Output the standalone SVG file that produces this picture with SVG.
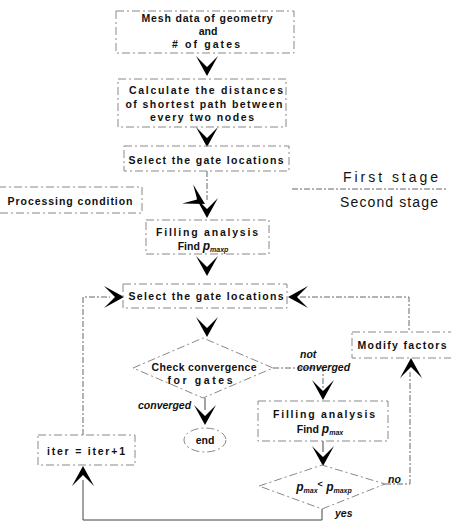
<svg xmlns="http://www.w3.org/2000/svg" xmlns:xlink="http://www.w3.org/1999/xlink" width="451" height="523" viewBox="0 0 451 523">
<style>
.box{fill:none;stroke:#888;stroke-width:1;stroke-dasharray:8 3 2 3}
.t{font-family:"Liberation Sans",Arial,sans-serif;font-size:10.5px;font-weight:bold;fill:#111;text-anchor:middle}
.it{font-family:"Liberation Sans",Arial,sans-serif;font-size:10.5px;font-weight:bold;font-style:italic;fill:#111}
.big{font-family:"Liberation Sans",Arial,sans-serif;font-size:14px;fill:#111}
.ln{fill:none;stroke:#666;stroke-width:1;stroke-dasharray:6 2 2 2}
.sl{fill:none;stroke:#444;stroke-width:1}
.ah{fill:#000}
.sub{font-size:7px;font-style:italic}
</style>
<defs>
<path id="ah" class="ah" d="M0,0 L-11,-20 L0,-9 L11,-20 Z"/>
</defs>
<rect width="451" height="523" fill="#fff"/>
<g id="connectors">
<line class="ln" x1="207" y1="171" x2="207" y2="200"/>
<line class="ln" x1="292" y1="189" x2="448" y2="189"/>
<line class="sl" x1="205" y1="398" x2="205" y2="410"/>
<polyline class="ln" points="273,368 323,368 323,390"/>
<line class="sl" x1="323" y1="441" x2="323" y2="452"/>
<polyline class="ln" points="385,484 410,484 410,372"/>
<polyline class="ln" points="300,297 409,297 409,332"/>
<polyline class="sl" points="322,509 322,520 83,520 83,480"/>
<polyline class="ln" points="83,435 83,297 110,297"/>
<use xlink:href="#ah" transform="translate(207,76)"/>
<use xlink:href="#ah" transform="translate(207,147)"/>
<use xlink:href="#ah" transform="translate(205,204) rotate(-60)"/>
<use xlink:href="#ah" transform="translate(207,218)"/>
<use xlink:href="#ah" transform="translate(207,276)"/>
<use xlink:href="#ah" transform="translate(124,297) rotate(-90)"/>
<use xlink:href="#ah" transform="translate(288,297) rotate(90)"/>
<use xlink:href="#ah" transform="translate(207,337)"/>
<use xlink:href="#ah" transform="translate(205,425)"/>
<use xlink:href="#ah" transform="translate(323,400)"/>
<use xlink:href="#ah" transform="translate(323,466)"/>
<use xlink:href="#ah" transform="translate(411,358) rotate(180)"/>
<use xlink:href="#ah" transform="translate(83,466) rotate(180)"/>
</g>
<g id="mesh">
<rect class="box" x="116" y="11" width="178" height="42"/>
<text class="t" x="207" y="22" textLength="131" lengthAdjust="spacing">Mesh data of geometry</text>
<text class="t" x="208" y="35">and</text>
<text class="t" x="206" y="48" textLength="68" lengthAdjust="spacing"># of gates</text>
</g>
<g id="calc">
<rect class="box" x="118" y="79" width="168" height="48"/>
<text class="t" x="206" y="94" textLength="154" lengthAdjust="spacing">Calculate the distances</text>
<text class="t" x="204" y="108" textLength="157" lengthAdjust="spacing">of shortest path between</text>
<text class="t" x="202" y="121" textLength="104" lengthAdjust="spacing">every two nodes</text>
</g>
<g id="select1">
<rect class="box" x="124" y="146" width="165" height="25"/>
<text class="t" x="206" y="164" textLength="155" lengthAdjust="spacing">Select the gate locations</text>
</g>
<g id="stages">
<text class="big" x="343" y="182" textLength="95" lengthAdjust="spacing">First stage</text>
<text class="big" x="340" y="207" textLength="98" lengthAdjust="spacing">Second stage</text>
</g>
<g id="processing">
<rect class="box" x="-2" y="187" width="144" height="26"/>
<text class="t" x="70" y="205" textLength="125" lengthAdjust="spacing">Processing condition</text>
</g>
<g id="filling1">
<rect class="box" x="146" y="220" width="123" height="34"/>
<text class="t" x="207" y="236" textLength="102" lengthAdjust="spacing">Filling analysis</text>
<text class="t" x="203" y="250">Find <tspan font-style="italic" font-size="12">p</tspan><tspan class="sub" dy="2">maxp</tspan></text>
</g>
<g id="select2">
<rect class="box" x="123" y="284" width="164" height="24"/>
<text class="t" x="206" y="300" textLength="155" lengthAdjust="spacing">Select the gate locations</text>
</g>
<g id="check">
<polygon class="box" points="133,368 203,338 273,368 203,398"/>
<text class="t" x="204" y="371" textLength="105" lengthAdjust="spacing">Check convergence</text>
<text class="t" x="200" y="384" textLength="65" lengthAdjust="spacing">for gates</text>
<text class="it" x="300" y="358">not</text>
<text class="it" x="297" y="371">converged</text>
<text class="it" x="138" y="409">converged</text>
</g>
<g id="end">
<ellipse class="box" cx="205" cy="440" rx="21" ry="12"/>
<text class="t" x="205" y="444">end</text>
</g>
<g id="filling2">
<rect class="box" x="258" y="401" width="130" height="40"/>
<text class="t" x="324" y="418" textLength="102" lengthAdjust="spacing">Filling analysis</text>
<text class="t" x="320" y="433">Find <tspan font-style="italic" font-size="12">p</tspan><tspan class="sub" dy="2">max</tspan></text>
</g>
<g id="compare">
<polygon class="box" points="259,486 322,465 385,484 322,509"/>
<text class="t" x="324" y="491"><tspan font-style="italic" font-size="12">p</tspan><tspan class="sub" dy="2">max</tspan><tspan dy="-6" font-size="9">&lt;</tspan><tspan dy="4" font-style="italic" font-size="12"> p</tspan><tspan class="sub" dy="2">maxp</tspan></text>
<text class="it" x="388" y="483">no</text>
<text class="it" x="335" y="517">yes</text>
</g>
<g id="modify">
<rect class="box" x="352" y="332" width="101" height="26"/>
<text class="t" x="402" y="349" textLength="89" lengthAdjust="spacing">Modify factors</text>
</g>
<g id="iter">
<rect class="box" x="38" y="435" width="97" height="30"/>
<text class="t" x="86" y="455" textLength="78" lengthAdjust="spacing">iter = iter+1</text>
</g>
</svg>
